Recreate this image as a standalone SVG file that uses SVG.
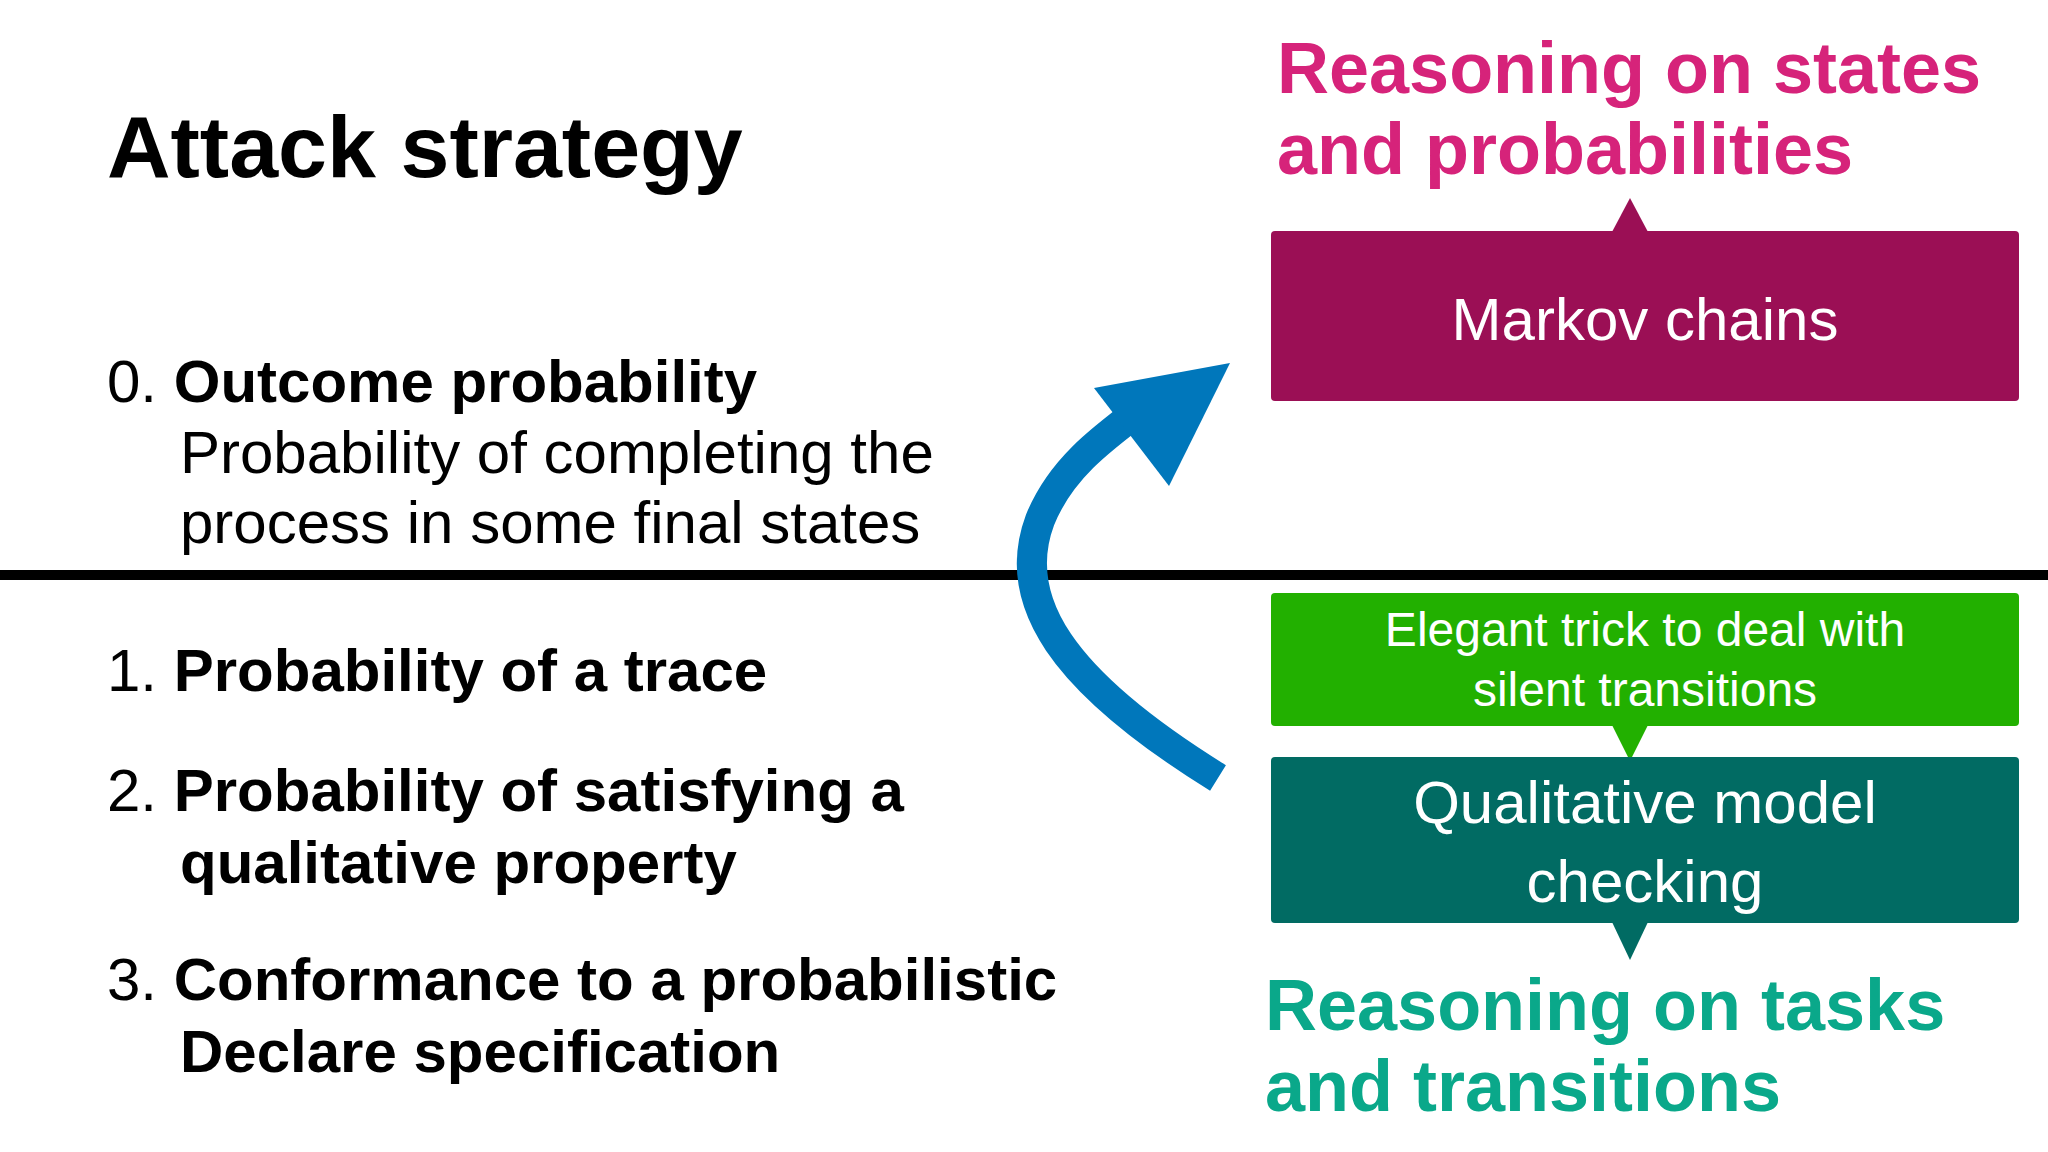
<svg xmlns="http://www.w3.org/2000/svg" width="2048" height="1152" viewBox="0 0 2048 1152">
<style>
text{font-family:"Liberation Sans",Arial,sans-serif}
.b{font-weight:bold}
.k{fill:#000;font-size:60px}
.w{fill:#fff;text-anchor:middle}
</style>
<rect width="2048" height="1152" fill="#fff"/>
<text x="107" y="177" class="b" font-size="88">Attack strategy</text>
<line x1="0" y1="575" x2="2048" y2="575" stroke="#000" stroke-width="10"/>
<g id="items" class="k">
<text x="107" y="402" class="k">0. <tspan class="b">Outcome probability</tspan></text>
<text x="180" y="473" class="k">Probability of completing the</text>
<text x="180" y="543" class="k">process in some final states</text>
<text x="107" y="691" class="k">1. <tspan class="b">Probability of a trace</tspan></text>
<text x="107" y="811" class="k">2. <tspan class="b">Probability of satisfying a</tspan></text>
<text x="180" y="883" class="k b">qualitative property</text>
<text x="107" y="1000" class="k">3. <tspan class="b">Conformance to a probabilistic</tspan></text>
<text x="180" y="1072" class="k b">Declare specification</text>
</g>
<g id="top-label"><text x="1277" y="93" class="b" font-size="72" fill="#d6237a">Reasoning on states</text><text x="1277" y="174" class="b" font-size="72" fill="#d6237a">and probabilities</text></g>
<g id="markov"><rect x="1271" y="231" width="748" height="170" rx="4" fill="#9b0f55"/><polygon points="1612,232 1630,198 1648,232" fill="#9b0f55"/><text x="1645" y="340" class="w" font-size="60">Markov chains</text></g>
<g id="trick"><rect x="1271" y="593" width="748" height="133" rx="4" fill="#22b000"/><polygon points="1612,725 1648,725 1630,761" fill="#22b000"/><text x="1645" y="646" class="w" font-size="48">Elegant trick to deal with</text><text x="1645" y="706" class="w" font-size="48">silent transitions</text></g>
<g id="qmc"><rect x="1271" y="757" width="748" height="166" rx="4" fill="#016b63"/><polygon points="1612,922 1648,922 1630,960" fill="#016b63"/><text x="1645" y="823" class="w" font-size="60">Qualitative model</text><text x="1645" y="902" class="w" font-size="60">checking</text></g>
<g id="bottom-label"><text x="1265" y="1030" class="b" font-size="72" fill="#0aa88a">Reasoning on tasks</text><text x="1265" y="1111" class="b" font-size="72" fill="#0aa88a">and transitions</text></g>
<g id="connectors"><path d="M1218,778 C1060,680 1010,600 1040,520 C1060,470 1100,440 1140,410" fill="none" stroke="#0077bb" stroke-width="30"/><polygon points="1094,388 1230,363 1169,486" fill="#0077bb"/></g>
</svg>
